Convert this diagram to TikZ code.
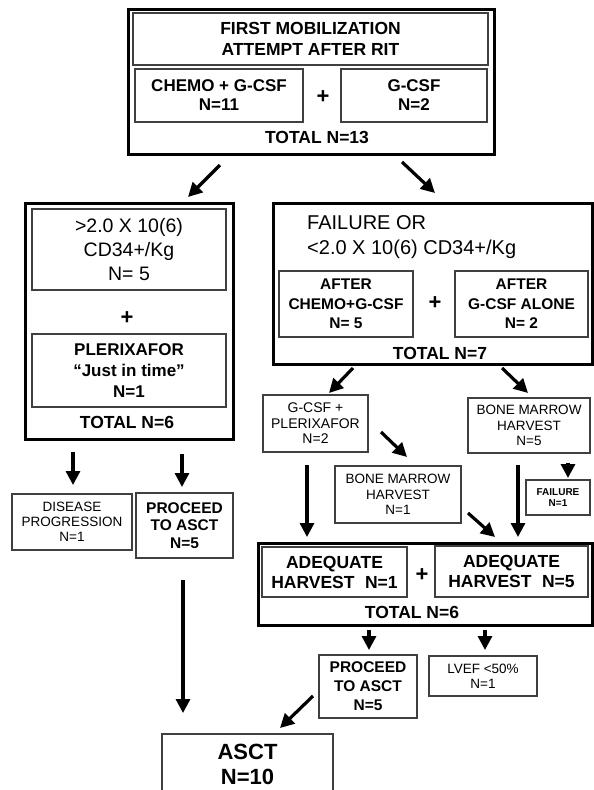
\documentclass[tikz,border=0pt]{standalone}
\usepackage{fontspec}
\setmainfont{Liberation Sans}
\usetikzlibrary{arrows.meta}
\newcommand{\fsz}[2]{\fontsize{#1}{#2}\selectfont}

\begin{document}
\begin{tikzpicture}[x=1pt,y=-1pt,
    outer/.style={draw,line width=3pt,inner sep=0pt,outer sep=0pt},
    box/.style={draw=black!75,line width=1.2pt,inner sep=0pt,outer sep=0pt,align=center},
    plus/.style={font=\fsz{22}{22}\bfseries},
    total/.style={font=\fsz{17.5}{21}\bfseries},
    arr/.style={line width=3.2pt,-{Triangle[length=14pt,width=14pt]}}]
  \useasboundingbox (0,0) rectangle (594,790);
  \clip (0,0) rectangle (594,790);

  \node[outer,minimum width=366pt,minimum height=145pt] (top) at (311,81.5) {};
  \node[box,minimum width=355pt,minimum height=52pt,font=\fsz{17.5}{21.5}\bfseries] (title) at (310.5,39) {FIRST MOBILIZATION\\ATTEMPT AFTER RIT};
  \node[box,minimum width=168pt,minimum height=53pt,font=\fsz{17}{19}\bfseries] (chemo) at (219,95.5) {CHEMO + G-CSF\\N=11};
  \node[plus] (plus1) at (323,97) {+};
  \node[box,minimum width=146pt,minimum height=53pt,font=\fsz{17}{19}\bfseries] (gcsf) at (414,95.5) {G-CSF\\N=2};
  \node[total] (tot13) at (317,137) {TOTAL N=13};

  \node[outer,minimum width=208pt,minimum height=236pt] (big1) at (129,321) {};
  \node[box,minimum width=194pt,minimum height=81pt,font=\fsz{19.5}{24}] (hi) at (129,249.5) {>2.0 X 10(6)\\CD34+/Kg\\N= 5};
  \node[plus] (plus2) at (127,318) {+};
  \node[box,minimum width=194pt,minimum height=73pt,font=\fsz{17}{21}\bfseries] (plx) at (129,370.5) {PLERIXAFOR\\“Just in time”\\N=1};
  \node[total] (tot6) at (127,422) {TOTAL N=6};

  \node[outer,minimum width=319pt,minimum height=161pt] (big2) at (432.5,283.5) {};
  \node[anchor=west,inner sep=0pt,align=left,font=\fsz{20}{25}] (failtxt) at (307,237.5) {FAILURE OR\\<2.0 X 10(6) CD34+/Kg};
  \node[box,minimum width=134pt,minimum height=66pt,font=\fsz{15.5}{19.5}\bfseries] (ac) at (346,304) {AFTER\\CHEMO+G-CSF\\N= 5};
  \node[plus] (plus3) at (435,303) {+};
  \node[box,minimum width=133pt,minimum height=66pt,font=\fsz{15.5}{19.5}\bfseries] (ag) at (521.5,304) {AFTER\\G-CSF ALONE\\N= 2};
  \node[total] (tot7) at (440,353) {TOTAL N=7};

  \node[box,minimum width=105pt,minimum height=57pt,font=\fsz{14}{15.5}] (gp) at (315.5,423.5) {G-CSF +\\PLERIXAFOR\\N=2};
  \node[box,minimum width=122pt,minimum height=55pt,font=\fsz{13.5}{15.5}] (bm5) at (529,425.5) {BONE MARROW\\HARVEST\\N=5};
  \node[box,minimum width=64pt,minimum height=35pt,font=\fsz{10}{11.5}\bfseries] (fail) at (558,497.5) {FAILURE\\N=1};
  \node[box,minimum width=126pt,minimum height=57pt,font=\fsz{13.5}{15.5}] (bm1) at (398,494.5) {BONE MARROW\\HARVEST\\N=1};

  \node[outer,minimum width=334pt,minimum height=82pt] (big3) at (425,584) {};
  \node[box,minimum width=145pt,minimum height=50pt,font=\fsz{17.5}{20}\bfseries] (ah1) at (334.5,572) {ADEQUATE\\HARVEST\hspace{0.6em}N=1};
  \node[plus] (plus4) at (422,575) {+};
  \node[box,minimum width=153pt,minimum height=51pt,font=\fsz{17.5}{20}\bfseries] (ah2) at (511.5,571.5) {ADEQUATE\\HARVEST\hspace{0.6em}N=5};
  \node[total] (tot6b) at (412,612) {TOTAL N=6};

  \node[box,minimum width=120pt,minimum height=56pt,font=\fsz{13.5}{15}] (dp) at (72,522) {DISEASE\\PROGRESSION\\N=1};
  \node[box,minimum width=97pt,minimum height=65pt,font=\fsz{15.5}{17.5}\bfseries] (pr1) at (184.5,525.5) {PROCEED\\TO ASCT\\N=5};
  \node[box,minimum width=98pt,minimum height=63pt,font=\fsz{15.5}{19}\bfseries] (pr2) at (368,686.5) {PROCEED\\TO ASCT\\N=5};
  \node[box,minimum width=108pt,minimum height=40pt,font=\fsz{13.5}{15}] (lvef) at (483,676) {LVEF <50\%\\N=1};
  \node[box,minimum width=171pt,minimum height=61pt,font=\fsz{22}{25}\bfseries] (asct) at (247.5,764.5) {ASCT\\N=10};

  \draw[arr] ([shift={(-91,11)}]top.south) -- ([shift={(59,-6)}]big1.north);
  \draw[arr] ([shift={(91,8)}]top.south) -- ([shift={(2.5,-10)}]big2.north);
  \draw[arr] ([shift={(-56,13)}]big1.south) -- ([shift={(1,-9)}]dp.north);
  \draw[arr] ([shift={(53,15)}]big1.south) -- ([shift={(-2.5,-6)}]pr1.north);
  \draw[arr] ([shift={(-1.5,22)}]pr1.south) -- ([shift={(-64.5,-21)}]asct.north);
  \draw[arr] ([shift={(-79.5,4)}]big2.south) -- ([shift={(13.5,-2)}]gp.north);
  \draw[arr] ([shift={(69.5,4)}]big2.south) -- ([shift={(-1,-5)}]bm5.north);
  \draw[arr] ([shift={(13,8.5)}]gp.east) -- ([shift={(9,-9)}]bm1.north);
  \draw[arr] ([shift={(-8.5,13)}]gp.south) -- ([shift={(-118,-6)}]big3.north);
  \draw[arr] ([shift={(39,10)}]bm5.south) -- ([shift={(10,-2)}]fail.north);
  \draw[arr] ([shift={(7,-10)}]bm1.south east) -- ([shift={(70,-6)}]big3.north);
  \draw[arr] ([shift={(-11,12)}]bm5.south) -- ([shift={(93,-6)}]big3.north);
  \draw[arr] ([shift={(-56,5)}]big3.south) -- ([shift={(1,-5)}]pr2.north);
  \draw[arr] ([shift={(60,5)}]big3.south) -- ([shift={(2,-6)}]lvef.north);
  \draw[arr] ([shift={(-6,9.5)}]pr2.west) -- ([shift={(32.5,-6)}]asct.north);
\end{tikzpicture}
\end{document}
